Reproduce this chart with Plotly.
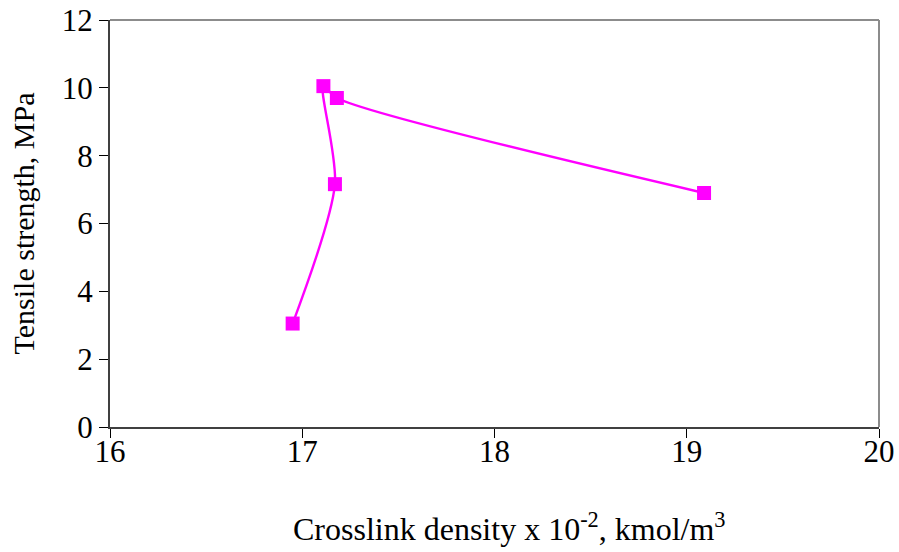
import plotly.graph_objects as go

# Crosslink density (x 10^-2 kmol/m^3) and tensile strength (MPa)
crosslink_density = [16.95, 17.17, 17.11, 17.18, 19.09]
tensile_strength = [3.05, 7.16, 10.05, 9.70, 6.90]

x_ticks = [16, 17, 18, 19, 20]
y_ticks = [0, 2, 4, 6, 8, 10, 12]

x_title = "Crosslink density x 10<sup>-2</sup>, kmol/m<sup>3</sup>"
y_title = "Tensile strength, MPa"

font_family = "Liberation Serif, Times New Roman, serif"
magenta = "#FF00FF"
label_size = 31

fig = go.Figure()
fig.add_trace(go.Scatter(
    x=crosslink_density,
    y=tensile_strength,
    mode="lines+markers",
    line=dict(color=magenta, width=2.4, shape="spline", smoothing=0.8),
    marker=dict(symbol="square", size=14, color=magenta),
    showlegend=False,
))

# Top and right frame edges in a lighter grey
fig.add_shape(type="line", xref="paper", yref="paper", x0=0, x1=1, y0=1, y1=1,
              line=dict(color="#8c8c8c", width=2))
fig.add_shape(type="line", xref="paper", yref="paper", x0=1, x1=1, y0=0, y1=1,
              line=dict(color="#8c8c8c", width=2))

# x-axis title, set slightly right of the plot centre
fig.add_annotation(text=x_title, xref="paper", yref="paper",
                   x=0.52, y=-0.245, xanchor="center", yanchor="middle",
                   showarrow=False, font=dict(family=font_family, size=32))

fig.update_layout(
    width=899, height=552,
    margin=dict(l=110, r=20, t=20, b=125),
    paper_bgcolor="white", plot_bgcolor="white",
    font=dict(family=font_family, size=label_size, color="black"),
    xaxis=dict(
        range=[16, 20], tickvals=x_ticks, ticktext=[str(v) for v in x_ticks],
        showgrid=False, zeroline=False, automargin=False,
        showline=True, linecolor="#404040", linewidth=2,
        ticks="outside", ticklen=9, tickwidth=1, tickcolor="black",
        ticklabelstandoff=-13,
        tickfont=dict(family=font_family, size=label_size),
    ),
    yaxis=dict(
        range=[0, 12], tickvals=y_ticks, ticktext=[str(v) for v in y_ticks],
        showgrid=False, zeroline=False, automargin=False,
        showline=True, linecolor="#404040", linewidth=2,
        ticks="outside", ticklen=9, tickwidth=1, tickcolor="black",
        tickfont=dict(family=font_family, size=label_size),
        title=dict(text=y_title,
                   font=dict(family=font_family, size=label_size - 1), standoff=18),
    ),
)

fig.write_html("out.html")
